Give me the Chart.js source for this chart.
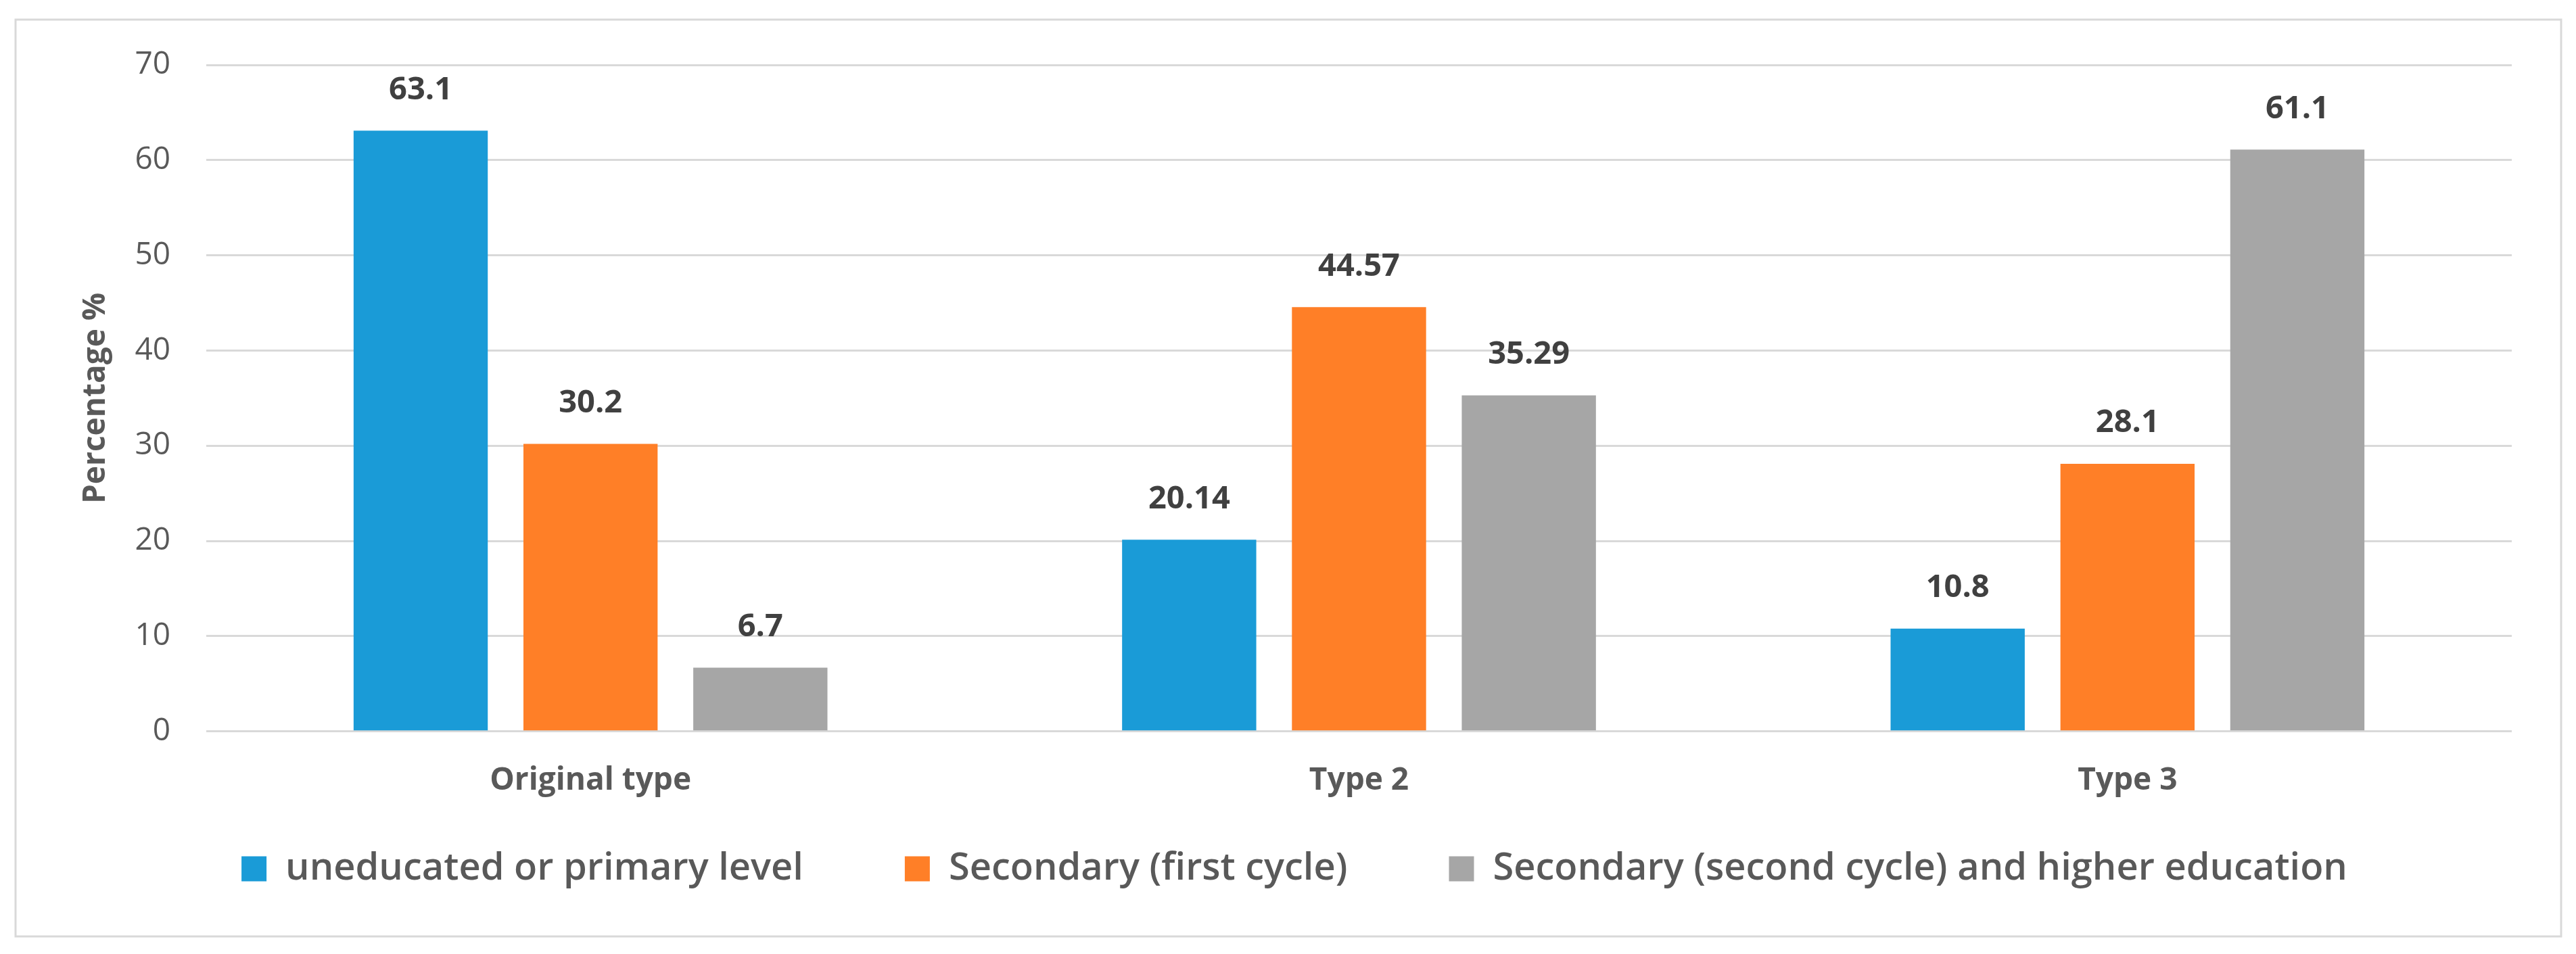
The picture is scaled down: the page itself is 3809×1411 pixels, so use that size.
<!DOCTYPE html>
<html>
<head>
<meta charset="utf-8">
<script src="https://cdn.jsdelivr.net/npm/chart.js@4.4.1/dist/chart.umd.min.js"></script>
<style>
  html, body { margin: 0; padding: 0; background: #ffffff; }
  #wrap { position: relative; width: 3809px; height: 1411px; }
</style>
</head>
<body>
<div id="wrap"><canvas id="eduChart" width="3809" height="1411"></canvas></div>
<script>
"use strict"

const categories = ["Original type", "Type 2", "Type 3"];
const seriesNames = [
    "uneducated or primary level",
    "Secondary (first cycle)",
    "Secondary (second cycle) and higher education"
];
const primaryLevel = [63.1, 20.14, 10.8];
const firstCycle = [30.2, 44.57, 28.1];
const secondCycle = [6.7, 35.29, 61.1];
const yTicks = [0, 10, 20, 30, 40, 50, 60, 70];

const FONT = "'Open Sans', 'DejaVu Sans', sans-serif";

// white page + thin grey frame round the whole chart
const frame = {
    id: "frame",
    beforeDraw(chart) {
        const ctx = chart.ctx;
        ctx.save();
        ctx.fillStyle = "#ffffff";
        ctx.fillRect(0, 0, chart.width, chart.height);
        ctx.strokeStyle = "#d9d9d9";
        ctx.lineWidth = 3;
        ctx.strokeRect(23, 29, 3764, 1356);
        ctx.restore();
    }
};

// value labels above every bar
const valueLabels = {
    id: "valueLabels",
    afterDatasetsDraw(chart) {
        const ctx = chart.ctx;
        ctx.save();
        ctx.font = "bold 47px " + FONT;
        ctx.fillStyle = "#404040";
        ctx.textAlign = "center";
        ctx.textBaseline = "middle";
        chart.data.datasets.forEach((ds, i) => {
            chart.getDatasetMeta(i).data.forEach((bar, j) => {
                ctx.fillText(String(ds.data[j]), bar.x, bar.y - 60);
            });
        });
        ctx.restore();
    }
};

try {
    const eduChart = new Chart(
        document.querySelector("#eduChart"),
        {
            type: "bar",
            data: {
                labels: categories,
                datasets: [{
                    label: seriesNames[0],
                    data: primaryLevel,
                    backgroundColor: "#1a9bd7",
                }, {
                    label: seriesNames[1],
                    data: firstCycle,
                    backgroundColor: "#ff7f27",
                }, {
                    label: seriesNames[2],
                    data: secondCycle,
                    backgroundColor: "#a6a6a6",
                }],
            },
            options: {
                responsive: false,
                animation: false,
                devicePixelRatio: 1,
                categoryPercentage: 0.663,
                barPercentage: 0.79,
                layout: {
                    padding: { top: 96, right: 95, bottom: 88, left: 114 }
                },
                plugins: {
                    tooltip: { enabled: false },
                    legend: {
                        position: "bottom",
                        // empty title with negative padding pulls the row up
                        // while keeping the wide gaps between items
                        title: {
                            display: true,
                            text: "",
                            font: { size: 1 },
                            padding: { top: -78, bottom: 0 }
                        },
                        labels: {
                            boxWidth: 37,
                            boxHeight: 37,
                            padding: 150,
                            color: "#595959",
                            font: { family: FONT, size: 56, weight: "600" }
                        }
                    }
                },
                scales: {
                    x: {
                        grid: { display: false },
                        border: { display: false },
                        ticks: {
                            color: "#595959",
                            padding: 37,
                            font: { family: FONT, size: 46, weight: "bold" }
                        },
                        afterFit(scale) { scale.height = 102; }
                    },
                    y: {
                        min: 0,
                        max: 70,
                        afterBuildTicks(scale) {
                            scale.ticks = yTicks.map(v => ({ value: v }));
                        },
                        grid: { color: "#d9d9d9", lineWidth: 3, drawTicks: false },
                        border: { display: false },
                        ticks: {
                            color: "#595959",
                            padding: 53,
                            font: { family: FONT, size: 46 }
                        },
                        title: {
                            display: true,
                            text: "Percentage %",
                            color: "#595959",
                            padding: { top: 0, bottom: 0 },
                            font: { family: FONT, size: 46, weight: "bold" }
                        },
                        afterFit(scale) { scale.width = 191; }
                    }
                }
            },
            plugins: [frame, valueLabels]
        }
    );
} catch(error) {}
</script>
</body>
</html>
